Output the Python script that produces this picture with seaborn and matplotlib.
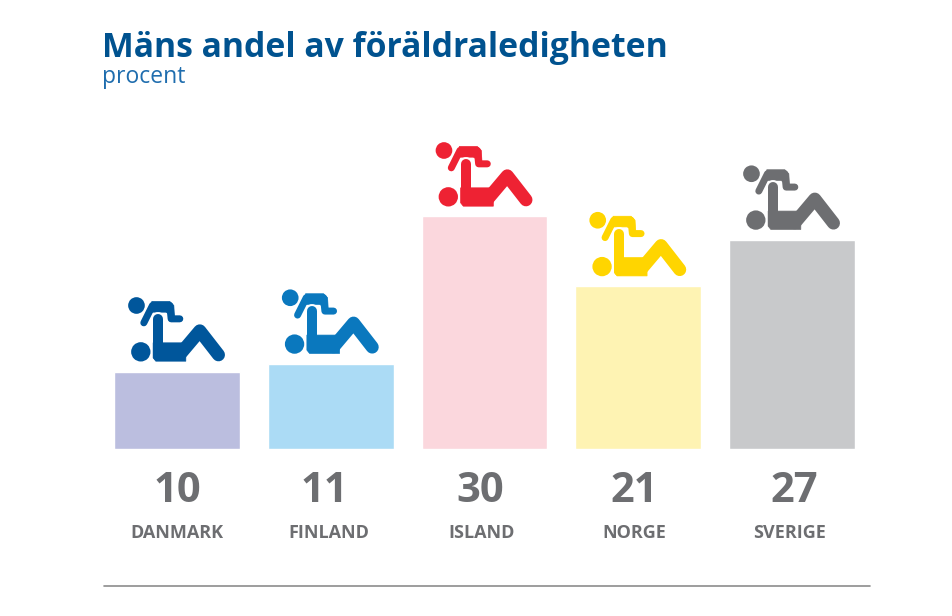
import matplotlib
matplotlib.use("Agg")
import matplotlib.pyplot as plt
import seaborn as sns
import pandas as pd
from matplotlib.path import Path
from matplotlib.patches import PathPatch, Circle
from matplotlib.transforms import Affine2D
from matplotlib.lines import Line2D

countries = ["DANMARK", "FINLAND", "ISLAND", "NORGE", "SVERIGE"]
values = [10, 11, 30, 21, 27]
bar_colors = ["#BBBEDF", "#ABDBF5", "#FBD7DD", "#FEF3B3", "#C8C9CB"]
icon_colors = ["#00569B", "#0A78BE", "#EE2233", "#FFD500", "#6D6E71"]
title = "Mäns andel av föräldraledigheten"
subtitle = "procent"

sns.set_theme(style="white")
plt.rcParams["font.family"] = ["Open Sans", "DejaVu Sans"]

W, H = 952, 616
fig = plt.figure(figsize=(W / 100, H / 100), dpi=100, facecolor="white")
ax = fig.add_axes([100.1 / W, (H - 449) / H, 768.75 / W, 349 / H])

df = pd.DataFrame({"country": countries, "value": values})
sns.barplot(data=df, x="country", y="value", hue="country", palette=bar_colors,
            width=0.817, legend=False, ax=ax, saturation=1)
ax.set_xlim(-0.5, 4.5)
ax.set_ylim(0, 349 / 7.75)
ax.set_xlabel("")
ax.set_ylabel("")
ax.set_yticks([])
ax.set_xticks([])
sns.despine(ax=ax, left=True, bottom=True)

# the reference's labels sit slightly off their bar centres (pixels)
value_shift = [0, -6, -4.5, -3.5, 2.5]
label_shift = [0, -2, -2.5, -3.5, -2.5]
for i, v in enumerate(values):
    ax.annotate(str(v), xy=(i, 0), xytext=(value_shift[i] * 0.72, -42.5 * 0.72),
                textcoords="offset points", ha="center", va="center",
                fontsize=30, fontweight="bold", color="#6D6E71")
    ax.annotate(countries[i], xy=(i, 0), xytext=(label_shift[i] * 0.72, -84 * 0.72),
                textcoords="offset points", ha="center", va="center",
                fontsize=13, fontweight="bold", color="#6D6E71")


def stroke(pts, lw, color, tr):
    codes = [Path.MOVETO] + [Path.LINETO] * (len(pts) - 1)
    ax.add_patch(PathPatch(Path(pts, codes), fill=False, edgecolor=color, lw=lw * 0.72,
                           capstyle="round", joinstyle="round", transform=tr, clip_on=False))


def fill(pts, color, tr):
    codes = [Path.MOVETO] + [Path.LINETO] * (len(pts) - 2) + [Path.CLOSEPOLY]
    ax.add_patch(PathPatch(Path(pts, codes), facecolor=color, edgecolor=color, lw=0.5,
                           joinstyle="round", transform=tr, clip_on=False))


# Icon outline in x3-zoom pixels; origin moved to the bar's top centre below
child_line = [(64, 100), (90, 48), (142, 48), (146, 88), (172, 88)]
child_back = [(88, 36), (142, 36), (154, 48), (156, 82), (130, 68), (86, 68), (88, 36)]
torso = [(107, 88), (107, 200)]
seat = [(92, 160), (190, 160), (190, 215), (100, 215), (92, 205), (92, 160)]
legs = [(172, 195), (232, 124), (288, 196)]
fig.canvas.draw()
for i, v in enumerate(values):
    px, py = ax.transData.transform((i, v))
    tr = Affine2D().translate(-163.5, -246).scale(1 / 3, -1 / 3).translate(px, py)
    c = icon_colors[i]
    stroke(child_line, 7, c, tr)
    fill(child_back, c, tr)
    stroke(torso, 14, "white", tr)
    stroke(torso, 10, c, tr)
    fill(seat, c, tr)
    stroke(legs, 13, c, tr)
    ax.add_patch(Circle((42, 48), 25, facecolor=c, edgecolor="none", transform=tr, clip_on=False))
    ax.add_patch(Circle((55, 187), 29, facecolor=c, edgecolor="none", transform=tr, clip_on=False))

fig.text(102 / W, (H - 57) / H, title, fontsize=24.35, fontweight="bold", color="#00528F",
         ha="left", va="baseline")
fig.text(102 / W, (H - 83) / H, subtitle, fontsize=16.5, color="#1F6DAE",
         ha="left", va="baseline")
fig.add_artist(Line2D([104 / W, 870 / W], [(H - 585.5) / H] * 2, color="#8C8C8C", lw=1.2))

fig.savefig("out.png", dpi=100, facecolor="white")
